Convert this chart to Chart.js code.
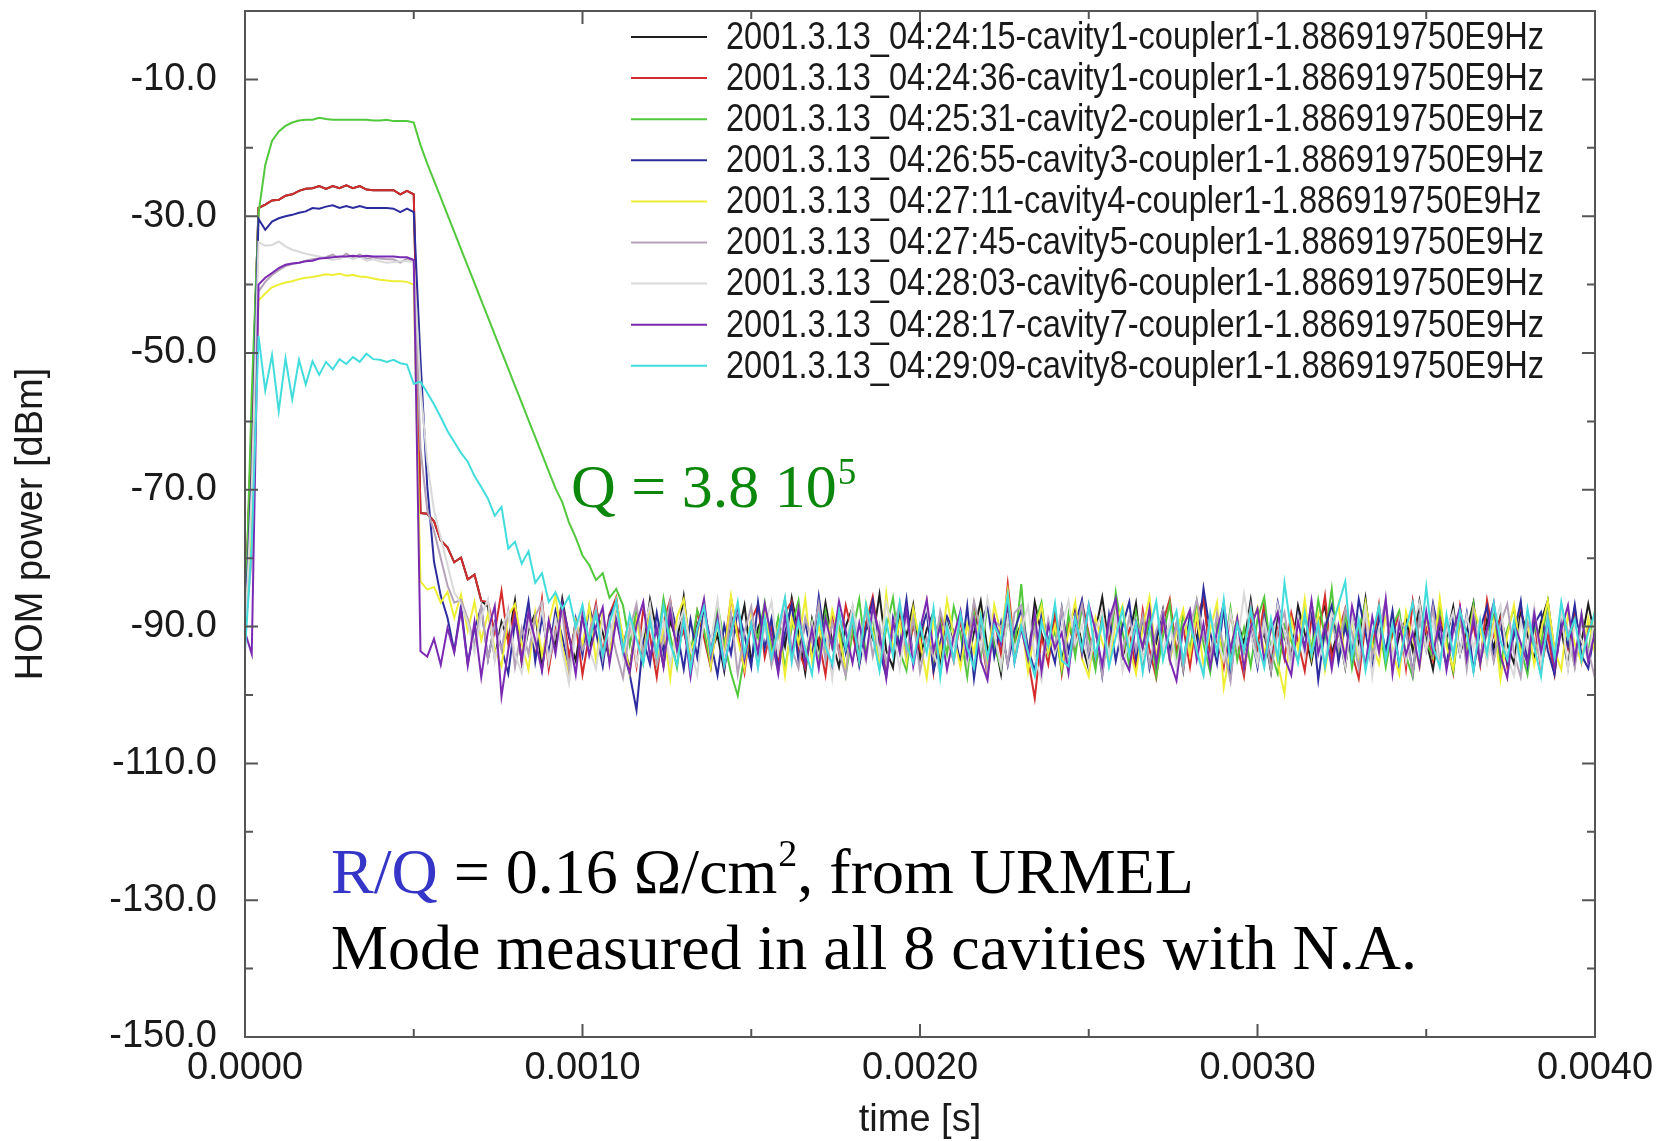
<!DOCTYPE html>
<html>
<head>
<meta charset="utf-8">
<title>HOM power decay</title>
<script src="https://cdn.jsdelivr.net/npm/chart.js@4.4.1/dist/chart.umd.min.js"></script>
<style>
  html, body { margin: 0; padding: 0; background: #ffffff; }
  #wrap { width: 1662px; height: 1141px; }
</style>
</head>
<body>
<div id="wrap"><canvas id="homChart" width="1662" height="1141"></canvas></div>
<script>
// sampling interval of the traces [s]
const timeStep = 0.00002;

const seriesLabels = [
    '2001.3.13_04:24:15-cavity1-coupler1-1.886919750E9Hz',
    '2001.3.13_04:24:36-cavity1-coupler1-1.886919750E9Hz',
    '2001.3.13_04:25:31-cavity2-coupler1-1.886919750E9Hz',
    '2001.3.13_04:26:55-cavity3-coupler1-1.886919750E9Hz',
    '2001.3.13_04:27:11-cavity4-coupler1-1.886919750E9Hz',
    '2001.3.13_04:27:45-cavity5-coupler1-1.886919750E9Hz',
    '2001.3.13_04:28:03-cavity6-coupler1-1.886919750E9Hz',
    '2001.3.13_04:28:17-cavity7-coupler1-1.886919750E9Hz',
    '2001.3.13_04:29:09-cavity8-coupler1-1.886919750E9Hz'
];

const seriesColors = ['#1e1e1e', '#d42c2c', '#52c83c', '#2c2c9e', '#eeee34',
    '#b4a2b8', '#d9d9d9', '#7a2ab2', '#42dcdc'];

// y tick labels (every 20 dB, minor ticks between)
const yTickLabels = ['-150.0', '-130.0', '-110.0', '-90.0', '-70.0', '-50.0', '-30.0', '-10.0'];
// x tick labels (every 1 ms, minor ticks between)
const xTickLabels = ['0.0000', '0.0010', '0.0020', '0.0030', '0.0040'];

// HOM power [dBm], one value per timeStep
const cav1a = [
    -90.6,-60.0,-28.8,-28.3,-27.7,-27.6,-27.0,-26.8,-26.3,-26.0,
    -25.9,-25.6,-26.0,-25.6,-25.9,-25.5,-25.9,-25.6,-26.1,-26.2,
    -26.2,-26.2,-26.2,-26.8,-26.3,-26.8,-73.4,-73.5,-74.6,-77.4,
    -78.4,-80.6,-79.9,-83.1,-82.4,-86.2,
    -87.1,-94.6,-89.3,-92.0,-86.2,-95.4,-90.5,-88.0,-96.1,-89.4,
    -92.8,-85.9,-91.6,-95.0,-88.3,-93.7,-87.4,-90.9,-94.8,-86.7,
    -91.9,-96.3,-88.6,-93.2,-86.0,-90.7,-95.7,-89.1,-92.4,-85.6,
    -94.0,-89.8,-87.0,-93.9,-91.2,-96.5,-88.4,-91.5,-86.9,-95.2,
    -90.2,-87.7,-94.3,-89.0,-92.9,-85.8,-91.0,-96.8,-88.9,-93.1,
    -86.5,-92.2,-95.9,-90.0,-87.2,-94.1,-89.6,-91.8,-85.3,-93.5,
    -96.0,-88.2,-91.3,-86.8,-94.7,-90.4,-87.9,-95.3,-89.2,-92.6,
    -88.7,-95.6,-90.8,-86.3,-93.4,-91.7,-96.9,-87.6,-92.1,-89.5,
    -94.9,-86.4,-91.1,-93.8,-88.1,-95.1,-89.9,-87.3,-92.7,-96.2,
    -90.6,-85.7,-93.0,-88.8,-94.4,-91.4,-86.6,-95.8,-89.7,-92.3,
    -87.5,-93.6,-90.1,-96.4,-88.5,-91.9,-85.5,-94.2,-90.3,-87.8,
    -95.5,-89.1,-92.5,-86.1,-93.3,-90.9,-96.6,-88.0,-91.6,-94.5,
    -86.9,-91.0,-95.2,-89.4,-87.0,-93.9,-90.5,-96.0,-88.6,-92.8,
    -85.9,-94.3,-90.0,-87.4,-95.7,-91.3,-88.9,-93.5,-86.3,-92.0,
    -96.3,-89.6,-91.7,-87.1,-94.0,-90.7,-86.5,-95.0,-89.0,-93.2,
    -88.4,-92.6,-95.4,-87.7,-91.2,-94.8,-89.3,-86.2,-93.7,-90.4,
    -95.9,-88.3,-92.2,-86.7,-91.5
];

const cav1b = [
    -88.5,-60.0,-28.8,-28.3,-27.7,-27.6,-27.0,-26.8,-26.3,-26.0,
    -25.9,-25.6,-26.0,-25.6,-25.9,-25.5,-25.9,-25.6,-26.1,-26.2,
    -26.2,-26.2,-26.2,-26.8,-26.3,-26.8,-73.4,-73.5,-74.6,-77.4,
    -78.4,-80.6,-79.9,-83.1,-82.4,-86.2,
    -86.4,-90.9,-84.8,-92.5,-87.3,-95.1,-89.0,-93.6,-86.0,-96.2,
    -90.3,-87.0,-94.4,-89.6,-97.0,-91.2,-86.6,-93.9,-88.2,-85.7,
    -92.8,-88.9,-95.8,-87.5,-91.4,-97.4,-89.3,-86.1,-93.0,-90.6,
    -95.3,-87.8,-91.6,-96.0,-88.5,-93.2,-85.9,-90.8,-96.7,-89.1,
    -86.8,-94.5,-90.0,-95.6,-88.0,-86.3,-93.5,-96.1,-89.8,-91.9,
    -97.1,-88.6,-93.8,-86.9,-91.1,-95.4,-89.5,-85.6,-92.3,-96.4,
    -90.7,-87.2,-94.9,-89.9,-93.3,-86.5,-96.6,-88.4,-91.7,-95.0,
    -89.2,-93.7,-86.7,-91.3,-97.2,-88.8,-94.1,-83.8,-92.9,-90.2,
    -94.6,-100.5,-91.5,-95.5,-88.3,-96.9,-89.7,-93.1,-86.4,-91.0,
    -95.7,-88.1,-92.4,-86.2,-94.0,-90.5,-96.3,-87.6,-93.4,-97.5,
    -89.4,-86.0,-93.6,-90.1,-95.9,-88.7,-85.8,-94.3,-91.8,-96.0,
    -87.9,-92.7,-97.3,-89.0,-93.0,-86.6,-95.2,-90.4,-94.7,-88.0,
    -92.1,-96.5,-88.9,-91.6,-85.5,-94.8,-90.9,-87.4,-93.9,-97.6,
    -89.6,-93.4,-86.8,-95.3,-91.2,-88.2,-96.1,-86.3,-92.6,-90.3,
    -94.9,-88.5,-91.9,-96.8,-87.1,-93.5,-89.8,-95.6,-86.1,-91.4,
    -88.8,-95.8,-90.6,-86.9,-94.2,-89.3,-96.2,-91.1,-97.0,-89.5,
    -93.2,-87.3,-95.1,-90.0,-88.6
];

const cav2 = [
    -90.5,-56.0,-29.6,-22.5,-19.0,-17.6,-16.8,-16.3,-16.0,-15.9,
    -15.9,-15.6,-15.8,-15.9,-15.9,-15.9,-15.9,-15.9,-15.9,-16.0,
    -16.0,-15.9,-16.1,-16.1,-16.1,-16.3,-19.6,-22.3,-24.8,-27.3,
    -29.8,-32.3,-34.8,-37.3,-39.8,-42.3,-44.8,-47.3,-49.8,-52.3,
    -54.8,-57.3,-59.8,-62.3,-64.8,-67.3,-69.8,-71.8,-74.8,-77.0,
    -79.6,-81.0,-83.2,-82.2,-85.8,-84.5,
    -86.9,-92.7,-87.5,-95.2,-89.1,-93.6,-85.9,-91.3,-96.0,-88.4,
    -94.1,-87.6,-90.5,-95.7,-86.8,-92.2,-96.8,-100.1,-94.3,-88.9,
    -91.7,-86.5,-93.4,-88.7,-96.2,-90.1,-86.2,-94.6,-89.4,-95.3,
    -87.8,-93.0,-89.6,-97.1,-90.9,-86.0,-94.2,-88.5,-95.5,-90.3,
    -85.8,-93.7,-96.4,-88.3,-92.0,-86.9,-95.0,-89.2,-94.0,-87.1,
    -91.1,-97.3,-88.0,-94.5,-86.7,-92.8,-96.1,-88.8,-93.2,-83.8,
    -95.4,-89.7,-86.4,-93.9,-90.6,-96.5,-88.2,-94.4,-87.0,-91.5,
    -96.3,-88.6,-94.8,-85.0,-90.8,-95.6,-87.9,-93.1,-89.0,-97.2,
    -91.4,-86.6,-95.1,-88.1,-93.5,-86.3,-92.5,-96.7,-89.5,-94.1,
    -87.3,-94.9,-90.2,-95.8,-88.9,-85.7,-93.8,-96.9,-89.8,-92.1,
    -95.0,-88.4,-93.3,-86.1,-91.6,-84.5,-94.7,-88.0,-96.0,-90.4,
    -86.5,-93.6,-89.3,-95.9,-90.0,-87.7,-94.3,-97.4,-88.6,-92.4,
    -94.5,-87.2,-91.8,-96.6,-89.1,-93.4,-86.8,-95.3,-90.7,-88.3,
    -95.6,-90.5,-87.4,-93.2,-97.0,-89.9,-92.6,-86.4,-94.2,-88.7,
    -91.0,-95.7,-88.2,-93.8,-87.6
];

const cav3 = [
    -90.2,-68.0,-30.4,-32.0,-30.8,-30.3,-30.0,-29.8,-29.5,-29.3,
    -28.8,-28.9,-28.6,-28.4,-28.8,-28.5,-28.8,-28.5,-28.8,-28.8,
    -28.8,-28.8,-28.9,-29.4,-28.9,-29.4,-51.0,-69.5,-80.5,-85.5,
    -88.7,-93.6,-86.9,-95.4,-90.3,-87.2,-94.8,-89.5,-93.1,-96.9,
    -89.2,-92.0,-86.3,-95.1,-88.6,-93.9,-87.7,-91.5,-96.3,-88.9,
    -94.2,-87.1,-90.8,-95.8,-88.4,-86.5,-93.3,-97.0,-102.2,-91.9,
    -95.5,-88.0,-93.7,-86.6,-90.6,-96.2,-89.0,-94.5,-87.4,-92.2,
    -97.1,-89.8,-94.0,-87.5,-91.3,-95.9,-86.4,-93.2,-88.8,-96.4,
    -90.9,-86.8,-95.0,-89.3,-94.6,-85.6,-92.5,-96.0,-88.1,-93.8,
    -89.1,-95.7,-90.4,-86.2,-93.5,-97.3,-88.7,-92.9,-86.0,-94.9,
    -91.2,-87.9,-96.5,-92.3,-88.5,-90.7,-95.2,-87.0,-97.6,-90.1,
    -86.7,-94.4,-89.4,-95.6,-90.5,-87.6,-93.0,-96.6,-88.2,-91.8,
    -95.3,-87.3,-93.6,-89.7,-86.1,-94.3,-90.2,-97.2,-88.3,-95.0,
    -90.0,-86.4,-94.7,-88.9,-96.1,-91.4,-87.8,-93.9,-89.6,-95.8,
    -88.0,-93.4,-84.4,-90.9,-95.4,-87.1,-97.4,-89.2,-93.7,-90.6,
    -96.0,-88.5,-94.1,-86.5,-91.0,-95.5,-88.2,-93.1,-87.5,-97.8,
    -90.3,-86.9,-95.2,-89.9,-94.5,-86.0,-90.8,-96.3,-88.6,-93.6,
    -87.7,-95.9,-90.1,-96.8,-88.4,-93.3,-86.6,-91.6,-95.7,-89.0,
    -94.0,-88.1,-96.4,-90.4,-87.0,-94.8,-89.6,-95.3,-91.3,-86.3,
    -95.6,-89.7,-87.9,-93.5,-97.0,-88.9,-92.8,-86.8,-94.2,-96.1,
    -90.5
];

const cav4 = [
    -89.4,-76.0,-42.3,-41.3,-40.4,-40.0,-39.7,-39.5,-39.2,-39.0,
    -38.9,-38.7,-38.5,-38.6,-38.4,-38.7,-38.6,-38.8,-38.9,-39.1,
    -39.3,-39.4,-39.5,-39.5,-39.6,-40.0,-83.4,-84.6,
    -84.2,-86.5,-84.9,-88.7,-85.3,-90.6,-86.4,-92.0,-88.1,-93.4,
    -95.8,-88.4,-86.7,-92.5,-96.3,-87.9,-94.1,-89.6,-85.4,-93.0,
    -96.8,-89.2,-92.7,-86.9,-95.1,-88.0,-94.8,-86.2,-91.5,-96.7,
    -89.0,-94.2,-87.4,-95.5,-90.3,-97.6,-88.6,-86.0,-93.6,-91.1,
    -86.3,-95.7,-89.5,-94.4,-85.5,-91.8,-96.2,-88.3,-93.9,-87.1,
    -94.6,-90.0,-97.2,-88.8,-92.4,-85.9,-95.0,-89.9,-94.3,-87.6,
    -91.2,-96.5,-88.5,-94.9,-86.6,-90.7,-95.6,-85.2,-93.5,-89.3,
    -95.2,-87.3,-92.1,-97.5,-88.9,-94.0,-86.1,-91.4,-96.0,-89.7,
    -93.8,-88.2,-95.4,-86.8,-91.0,-84.8,-94.5,-89.1,-96.6,-90.5,
    -87.0,-93.7,-89.8,-95.9,-90.8,-86.4,-94.7,-97.3,-88.7,-92.3,
    -95.3,-89.4,-86.9,-93.1,-96.9,-90.2,-85.7,-94.6,-88.4,-95.0,
    -90.9,-87.5,-94.2,-88.1,-95.8,-90.4,-86.5,-98.9,-93.2,-88.6,
    -96.1,-90.1,-87.2,-94.0,-89.5,-95.4,-99.8,-89.0,-93.3,-86.0,
    -94.4,-88.3,-96.4,-90.6,-86.7,-95.2,-88.9,-94.8,-86.6,-92.6,
    -95.5,-88.0,-93.6,-97.0,-87.8,-91.7,-95.9,-88.5,-94.1,-85.8,
    -92.9,-96.2,-88.4,-94.5,-87.3,-90.3,-95.1,-89.4,-97.7,-91.3,
    -86.8,-94.3,-89.3,-95.6,-90.7,-86.2,-93.4,-96.3,-88.2,-92.5,
    -95.2,-88.8,-94.0
];

const cav5 = [
    -91.0,-80.0,-41.0,-39.6,-38.6,-37.9,-37.3,-37.0,-36.8,-36.5,
    -36.3,-36.2,-36.0,-35.6,-36.2,-35.5,-36.1,-35.6,-36.2,-36.0,
    -36.2,-36.3,-36.3,-36.8,-36.2,-36.6,-64.0,-73.0,-76.0,-80.0,
    -84.0,-86.5,
    -86.1,-88.9,-92.6,-87.0,-94.8,-89.7,-93.5,-87.6,-95.9,-90.2,
    -94.0,-88.5,-86.4,-95.3,-90.9,-87.8,-96.4,-89.6,-93.4,-91.1,
    -87.2,-94.7,-89.1,-93.8,-97.5,-90.3,-86.7,-94.2,-88.6,-95.6,
    -91.8,-86.2,-93.7,-88.3,-96.2,-90.6,-86.8,-94.6,-89.0,-95.1,
    -88.2,-97.0,-90.7,-87.1,-94.1,-89.3,-95.7,-91.4,-86.0,-93.2,
    -96.1,-88.7,-92.2,-86.6,-95.0,-89.4,-93.6,-97.2,-88.1,-92.7,
    -87.4,-94.3,-89.8,-95.4,-90.5,-86.5,-93.9,-88.8,-96.6,-91.6,
    -94.5,-87.7,-91.3,-95.2,-88.4,-93.3,-86.3,-90.8,-96.8,-89.2,
    -90.0,-95.5,-88.0,-86.9,-94.4,-90.4,-96.0,-88.9,-93.0,-87.3,
    -95.8,-91.0,-86.8,-93.7,-89.9,-97.1,-90.1,-86.4,-94.0,-88.6,
    -93.5,-88.4,-95.6,-90.6,-87.6,-94.9,-89.5,-96.3,-90.2,-86.1,
    -91.5,-94.6,-88.1,-93.1,-98.0,-89.1,-93.8,-87.0,-95.3,-90.0,
    -96.5,-90.7,-87.9,-94.8,-88.8,-93.6,-86.6,-91.2,-95.7,-89.4,
    -93.2,-87.5,-90.9,-96.1,-88.2,-94.3,-90.3,-86.2,-95.0,-89.0,
    -90.6,-96.9,-88.6,-93.5,-87.2,-95.4,-89.7,-94.1,-88.0,-96.2,
    -87.8,-94.2,-90.4,-95.1,-89.6,-86.7,-93.9,-97.4,-89.3,-91.9,
    -95.2,-88.3,-94.7,-87.1,-90.8,-96.0,-89.1,-93.4,-97.6
];

const cav6 = [
    -92.0,-70.0,-33.8,-34.3,-34.2,-33.7,-34.4,-34.9,-35.2,-35.5,
    -35.7,-35.9,-36.1,-36.4,-36.2,-35.8,-36.3,-35.9,-36.5,-36.3,
    -36.6,-36.8,-36.7,-36.6,-36.6,-36.7,-55.0,-66.0,-73.0,-77.0,
    -81.0,-85.0,
    -86.6,-89.4,-93.8,-88.5,-86.0,-95.0,-90.2,-87.9,-94.1,-96.8,
    -89.3,-92.9,-87.2,-95.1,-88.8,-93.6,-98.3,-90.6,-87.6,-93.3,
    -96.2,-89.0,-92.4,-86.4,-94.5,-88.5,-95.4,-90.9,-86.7,-93.9,
    -89.2,-95.6,-90.3,-87.5,-93.1,-97.1,-88.9,-92.3,-86.1,-94.7,
    -90.8,-87.3,-94.6,-89.1,-96.0,-90.0,-86.3,-93.7,-88.2,-95.3,
    -87.4,-93.5,-89.5,-95.8,-90.4,-97.6,-88.7,-93.0,-86.9,-92.1,
    -95.2,-88.1,-94.0,-86.5,-90.7,-96.2,-88.4,-94.8,-90.1,-87.1,
    -93.8,-96.9,-89.6,-92.8,-87.7,-95.5,-89.0,-93.4,-85.9,-91.2,
    -96.0,-88.6,-93.2,-90.5,-87.0,-94.4,-97.9,-89.7,-93.9,-90.0,
    -86.2,-92.6,-89.8,-95.7,-90.6,-87.8,-94.2,-88.3,-96.5,-91.5,
    -88.9,-94.9,-90.8,-86.6,-93.6,-89.4,-95.9,-90.3,-87.4,-93.0,
    -97.0,-88.2,-91.7,-95.0,-87.9,-92.9,-85.2,-91.0,-95.4,-89.1,
    -93.7,-86.8,-90.9,-96.1,-88.6,-94.3,-86.4,-92.5,-95.2,-88.0,
    -90.5,-95.8,-88.5,-93.9,-87.3,-97.3,-90.2,-87.6,-94.6,-88.9,
    -95.1,-89.9,-86.5,-93.3,-89.3,-96.0,-90.7,-87.8,-94.0,-88.4,
    -93.2,-88.7,-95.3,-90.1,-86.9,-94.5,-97.2,-89.2,-93.5,-87.2,
    -95.6,-89.8,-94.2,-87.6,-96.3,-89.5,-92.0,-95.0,-88.3
];

const cav7 = [
    -90.8,-94.0,-40.0,-39.0,-38.3,-37.6,-37.1,-36.9,-36.8,-36.6,
    -36.5,-36.2,-36.1,-36.0,-35.9,-35.9,-35.8,-35.9,-35.8,-35.9,
    -35.9,-35.9,-35.9,-36.0,-36.0,-36.4,-93.6,-94.4,-91.8,-95.6,
    -90.2,
    -93.8,-87.6,-95.7,-89.3,-97.4,-90.6,-87.0,-100.2,-93.4,-88.5,
    -95.1,-87.9,-92.0,-96.5,-89.1,-94.0,-86.6,-91.2,-97.0,-88.3,
    -94.2,-90.0,-87.2,-95.4,-89.0,-93.6,-96.7,-89.7,-86.4,-94.5,
    -90.1,-95.9,-87.8,-93.3,-89.4,-97.3,-90.5,-86.0,-94.1,-88.6,
    -96.0,-90.8,-87.0,-94.8,-89.6,-93.9,-86.7,-91.5,-96.9,-88.4,
    -94.3,-87.4,-95.6,-90.3,-96.1,-88.8,-93.0,-86.3,-90.7,-95.3,
    -89.5,-94.6,-87.1,-91.0,-97.6,-89.2,-93.8,-87.5,-95.8,-90.4,
    -86.1,-93.5,-89.9,-96.3,-91.4,-87.7,-94.4,-88.9,-95.0,-97.8,
    -88.7,-92.6,-86.5,-95.2,-90.2,-94.7,-88.0,-96.6,-89.8,-93.2,
    -90.9,-96.8,-88.2,-94.0,-86.8,-90.6,-95.7,-89.0,-85.9,-94.3,
    -96.4,-89.4,-93.1,-87.3,-95.5,-88.5,-94.9,-97.9,-90.0,-87.6,
    -94.8,-89.6,-95.9,-90.7,-86.6,-93.4,-88.8,-96.2,-90.1,-87.4,
    -95.0,-90.4,-87.9,-94.5,-97.1,-89.3,-93.3,-86.2,-94.0,-89.8,
    -96.2,-89.9,-94.6,-87.0,-91.3,-95.6,-88.6,-93.7,-86.0,-96.9,
    -89.6,-94.1,-90.9,-95.8,-87.8,-93.9,-89.1,-96.4,-90.6,-87.2,
    -94.7,-88.9,-95.3,-90.3,-86.5,-94.2,-97.5,-89.5,-92.4,-95.4,
    -88.0,-93.7,-89.2,-96.0,-90.5,-86.9,-94.8,-88.2,-95.1,-90.8
];

const cav8 = [
    -93.5,-78.0,-47.5,-55.5,-50.3,-58.5,-50.8,-56.8,-51.0,-54.6,
    -51.2,-53.2,-51.3,-52.4,-50.9,-51.6,-50.6,-51.3,-50.1,-50.9,
    -51.0,-51.3,-51.0,-51.5,-51.7,-54.5,-54.2,-55.8,-57.5,-59.4,
    -61.4,-63.0,-64.6,-65.9,-68.0,-69.6,-71.3,-73.8,-72.5,-78.6,
    -77.6,-80.8,-79.0,-83.6,-82.2,-86.4,-85.0,
    -87.4,-85.6,-90.1,-86.8,-92.3,-88.0,-94.2,-89.5,-86.2,-93.6,
    -88.3,-91.8,-95.4,-89.0,-94.1,-86.9,-92.5,-95.6,-88.9,-96.3,
    -90.2,-87.1,-93.8,-89.4,-95.7,-91.0,-86.4,-94.0,-89.6,-96.0,
    -88.8,-94.6,-90.4,-85.8,-95.1,-89.1,-93.3,-97.0,-88.5,-92.9,
    -95.5,-87.8,-93.2,-88.6,-94.9,-86.7,-91.4,-96.5,-89.2,-94.3,
    -86.5,-92.7,-95.3,-89.7,-93.9,-87.3,-97.4,-90.0,-94.8,-88.2,
    -93.1,-96.1,-88.4,-94.5,-89.8,-92.0,-85.4,-95.2,-89.9,-93.7,
    -97.2,-89.3,-92.8,-86.6,-95.0,-95.8,-88.7,-93.4,-86.9,-94.4,
    -89.0,-95.9,-91.5,-87.5,-94.1,-89.5,-96.7,-90.3,-86.3,-94.9,
    -90.6,-87.7,-95.1,-89.4,-93.6,-97.1,-88.1,-93.9,-86.1,-95.6,
    -89.6,-93.5,-87.6,-92.2,-96.0,-88.9,-94.7,-83.6,-90.8,-95.3,
    -88.0,-94.2,-89.5,-95.8,-90.1,-86.8,-83.4,-94.6,-89.0,-96.4,
    -91.2,-87.0,-94.8,-89.7,-95.4,-90.2,-86.5,-93.8,-84.2,-92.9,
    -95.9,-88.3,-94.3,-87.7,-91.1,-96.6,-89.1,-94.0,-86.6,-92.1,
    -94.8,-89.2,-95.7,-87.4,-93.0,-97.3,-88.8,-94.5,-86.4,-91.7,
    -88.9,-95.0,-90.9,-87.9
];

const seriesValues = [cav1a, cav1b, cav2, cav3, cav4, cav5, cav6, cav7, cav8];

const sansFont = "'Liberation Sans', Arial, Helvetica, sans-serif";
const serifFont = "'Liberation Serif', 'Times New Roman', serif";

// gnuplot-like frame with inward ticks on all four sides
const frameTicks = {
    id: 'frameTicks',
    afterDatasetsDraw(chart) {
        const { ctx, chartArea: a, scales: { x, y } } = chart;
        ctx.save();
        ctx.strokeStyle = '#555555';
        ctx.lineWidth = 2;
        ctx.beginPath();
        x.ticks.forEach(t => {
            const px = x.getPixelForValue(t.value);
            const len = Math.round(t.value / 0.0005) % 2 === 0 ? 13 : 8;
            ctx.moveTo(px, a.bottom); ctx.lineTo(px, a.bottom - len);
            ctx.moveTo(px, a.top); ctx.lineTo(px, a.top + len);
        });
        y.ticks.forEach(t => {
            const py = y.getPixelForValue(t.value);
            const len = Math.round(t.value + 150) % 20 === 0 ? 13 : 8;
            ctx.moveTo(a.left, py); ctx.lineTo(a.left + len, py);
            ctx.moveTo(a.right, py); ctx.lineTo(a.right - len, py);
        });
        ctx.stroke();
        ctx.strokeRect(a.left, a.top, a.right - a.left, a.bottom - a.top);
        ctx.restore();
    }
};

// key in the upper right corner of the plot (condensed like the original)
const traceKey = {
    id: 'traceKey',
    afterDraw(chart) {
        const { ctx } = chart;
        ctx.save();
        ctx.font = '39.5px ' + sansFont;
        ctx.textBaseline = 'middle';
        ctx.textAlign = 'left';
        chart.data.datasets.forEach((ds, i) => {
            const yRow = 37 + i * 41.1;
            ctx.strokeStyle = ds.borderColor;
            ctx.lineWidth = 2;
            ctx.beginPath();
            ctx.moveTo(631, yRow);
            ctx.lineTo(707, yRow);
            ctx.stroke();
            ctx.save();
            ctx.translate(726, yRow + 1);
            ctx.scale(0.824, 1);
            ctx.fillStyle = '#1a1a1a';
            ctx.fillText(ds.label, 0, 0);
            ctx.restore();
        });
        ctx.restore();
    }
};

// text added on the slide
const slideNotes = {
    id: 'slideNotes',
    afterDraw(chart) {
        const { ctx } = chart;
        ctx.save();
        ctx.textBaseline = 'alphabetic';
        ctx.textAlign = 'left';

        // Q value, green
        ctx.fillStyle = '#0b870b';
        ctx.font = '62px ' + serifFont;
        const qText = 'Q = 3.8 10';
        ctx.fillText(qText, 571, 507);
        const w = ctx.measureText(qText).width;
        ctx.font = '37px ' + serifFont;
        ctx.fillText('5', 571 + w + 1, 484);

        // R/Q line
        let xPos = 331;
        ctx.font = '64px ' + serifFont;
        ctx.fillStyle = '#3535c8';
        ctx.fillText('R/Q', xPos, 893);
        xPos += ctx.measureText('R/Q').width;
        ctx.fillStyle = '#000000';
        const part1 = ' = 0.16 \u03A9/cm';
        ctx.fillText(part1, xPos, 893);
        xPos += ctx.measureText(part1).width;
        ctx.font = '38px ' + serifFont;
        ctx.fillText('2', xPos + 1, 866);
        xPos += ctx.measureText('2').width + 1;
        ctx.font = '64px ' + serifFont;
        ctx.fillText(', from URMEL', xPos, 893);

        ctx.fillText('Mode measured in all 8 cavities with N.A.', 331, 969);
        ctx.restore();
    }
};

const datasets = seriesValues.map((vals, i) => ({
    label: seriesLabels[i],
    data: vals.map((v, k) => ({ x: k * timeStep, y: v })),
    borderColor: seriesColors[i],
    backgroundColor: seriesColors[i],
    borderWidth: 2,
    pointRadius: 0,
    tension: 0,
    fill: false,
    order: seriesValues.length - 1 - i
}));

function noEdgePadding(scale) {
    scale.paddingTop = 0;
    scale.paddingBottom = 0;
    scale.paddingLeft = 0;
    scale.paddingRight = 0;
}

const chartConfig = {
    type: 'line',
    data: { datasets: datasets },
    options: {
        responsive: false,
        animation: false,
        layout: { padding: { top: 11, right: 67, left: 0, bottom: 0 } },
        plugins: {
            legend: { display: false },
            tooltip: { enabled: false },
            title: { display: false }
        },
        scales: {
            x: {
                type: 'linear',
                min: 0,
                max: 0.004,
                grid: { display: false, drawTicks: false },
                border: { display: false },
                ticks: {
                    stepSize: 0.0005,
                    autoSkip: false,
                    maxRotation: 0,
                    padding: 9,
                    color: '#1a1a1a',
                    font: { family: sansFont, size: 38 },
                    callback: function (value) {
                        const k = Math.round(value / 0.0005);
                        return k % 2 === 0 ? xTickLabels[k / 2] : '';
                    }
                },
                title: {
                    display: true,
                    text: 'time [s]',
                    color: '#1a1a1a',
                    font: { family: sansFont, size: 38, lineHeight: 1.1 },
                    padding: { top: 0, bottom: 0 }
                },
                afterFit: function (scale) {
                    scale.height = 104;
                    noEdgePadding(scale);
                }
            },
            y: {
                type: 'linear',
                min: -150,
                max: 0,
                grid: { display: false, drawTicks: false },
                border: { display: false },
                ticks: {
                    stepSize: 10,
                    autoSkip: false,
                    padding: 28,
                    color: '#1a1a1a',
                    font: { family: sansFont, size: 38 },
                    callback: function (value) {
                        const k = Math.round(value + 150);
                        return k % 20 === 0 ? yTickLabels[k / 20] : '';
                    }
                },
                title: {
                    display: true,
                    text: 'HOM power [dBm]',
                    color: '#1a1a1a',
                    font: { family: sansFont, size: 38, lineHeight: 1.2 },
                    padding: { top: 9, bottom: 0 }
                },
                afterFit: function (scale) {
                    scale.width = 245;
                    noEdgePadding(scale);
                }
            }
        }
    },
    plugins: [frameTicks, traceKey, slideNotes]
};

new Chart(document.getElementById('homChart').getContext('2d'), chartConfig);
</script>
</body>
</html>
